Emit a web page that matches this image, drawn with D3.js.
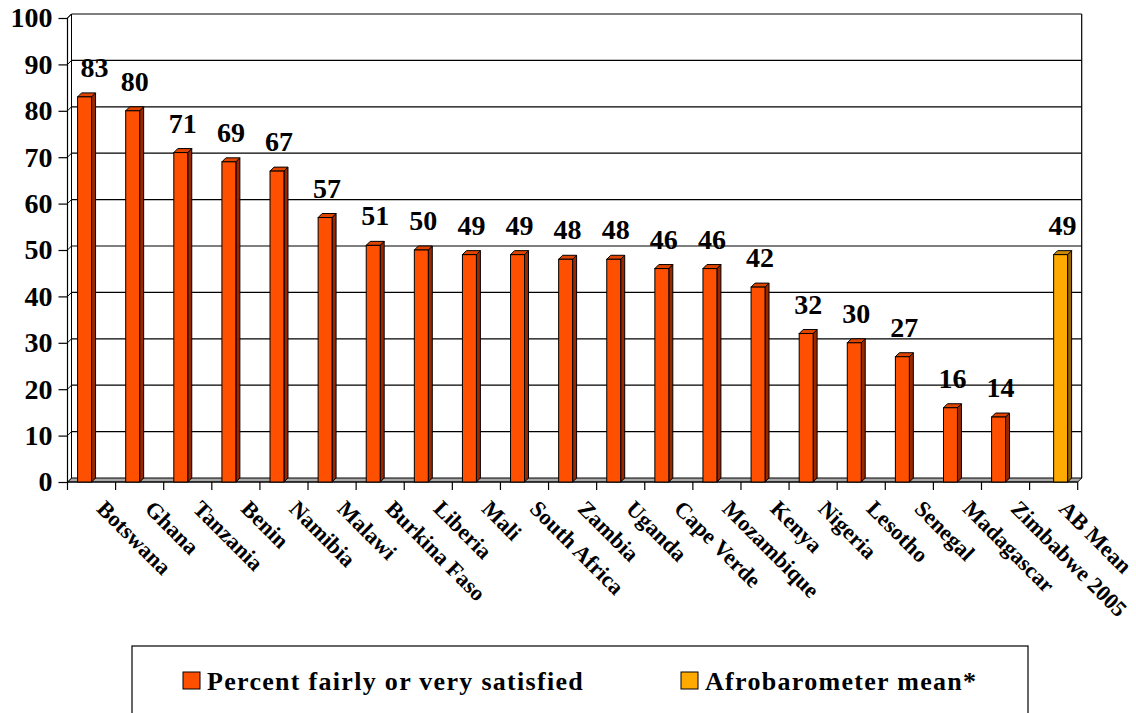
<!DOCTYPE html>
<head>
  <meta charset="utf-8">
  <script src="https://cdn.jsdelivr.net/npm/d3@7"></script>
</head>
<body style="margin:0">
  <svg width="1136" height="713"></svg>
  <script>

  // chart data
  var countries = ["Botswana", "Ghana", "Tanzania", "Benin", "Namibia", "Malawi",
    "Burkina Faso", "Liberia", "Mali", "South Africa", "Zambia", "Uganda",
    "Cape Verde", "Mozambique", "Kenya", "Nigeria", "Lesotho", "Senegal",
    "Madagascar", "Zimbabwe 2005", "AB Mean"];
  var satisfied = [83, 80, 71, 69, 67, 57, 51, 50, 49, 49, 48, 48, 46, 46, 42,
    32, 30, 27, 16, 14, null];
  var abMean = [null, null, null, null, null, null, null, null, null, null, null,
    null, null, null, null, null, null, null, null, null, 49];
  var seriesNames = ["Percent fairly or very satisfied", "Afrobarometer mean*"];
  var yTicks = [0, 10, 20, 30, 40, 50, 60, 70, 80, 90, 100];

  var FONT = "Liberation Serif";

  var svg = d3.select("svg");

  var colors = {
    front: ["#ff4f00", "#ffaa00"],
    top:   ["#e04500", "#cc8800"],
    side:  ["#992800", "#996600"]
  };

  var depth = 4;

  var x0 = d3.scaleBand()
      .domain(countries)
      .range([67.5, 1077.7]);

  var gap = x0.bandwidth() * 0.21;
  var x1 = d3.scaleBand()
      .domain([0, 1])
      .range([gap, x0.bandwidth() - gap]);

  var y = d3.scaleLinear()
      .domain([0, 100])
      .range([482, 18]);

  var left = x0.range()[0], right = x0.range()[1];
  var base = y(0), topY = y(100);

  // floor
  svg.append("polygon")
      .attr("points", [[left, base], [right, base], [right + depth, base - depth], [left + depth, base - depth]].join(" "))
      .attr("fill", "#a8a8a8")
      .attr("stroke", "#000")
      .attr("stroke-width", 1);

  // left wall
  svg.append("polygon")
      .attr("points", [[left, base], [left, topY], [left + depth, topY - depth], [left + depth, base - depth]].join(" "))
      .attr("fill", "#fff")
      .attr("stroke", "#000")
      .attr("stroke-width", 1);

  // gridlines on back wall + diagonals on side wall
  var grid = svg.append("g").attr("class", "grid");
  grid.selectAll("line.back")
    .data(yTicks.slice(1))
    .enter().append("line")
      .attr("class", "back")
      .attr("x1", left + depth)
      .attr("x2", right + depth)
      .attr("y1", function(d) { return y(d) - depth; })
      .attr("y2", function(d) { return y(d) - depth; })
      .attr("stroke", "#000")
      .attr("stroke-width", 1.2);

  grid.selectAll("line.diag")
    .data(yTicks.slice(1))
    .enter().append("line")
      .attr("class", "diag")
      .attr("x1", left)
      .attr("x2", left + depth)
      .attr("y1", function(d) { return y(d); })
      .attr("y2", function(d) { return y(d) - depth; })
      .attr("stroke", "#000")
      .attr("stroke-width", 1);

  // right edge of back wall
  svg.append("line")
      .attr("x1", right + depth).attr("x2", right + depth)
      .attr("y1", topY - depth).attr("y2", base - depth)
      .attr("stroke", "#000").attr("stroke-width", 1.2);

  // y axis
  var yAxis = svg.append("g")
      .attr("transform", "translate(" + left + ",0)")
      .call(d3.axisLeft(y).tickValues(yTicks).tickSize(9).tickPadding(6));
  yAxis.attr("font-family", FONT)
      .attr("font-size", 28)
      .attr("font-weight", "bold");
  yAxis.selectAll("text").attr("fill", "#000");
  yAxis.selectAll("line, path").attr("stroke", "#000").attr("stroke-width", 1.2);
  yAxis.select(".domain").attr("d", "M0," + base + "V" + topY);

  // x axis line + ticks at band boundaries
  var xg = svg.append("g");
  xg.append("line")
      .attr("x1", left).attr("x2", right)
      .attr("y1", base).attr("y2", base)
      .attr("stroke", "#000").attr("stroke-width", 1.2);
  xg.selectAll("line.tick")
    .data(countries.map(function(c) { return x0(c); }).concat([right]))
    .enter().append("line")
      .attr("class", "tick")
      .attr("x1", function(d) { return d; })
      .attr("x2", function(d) { return d; })
      .attr("y1", base)
      .attr("y2", base + 8)
      .attr("stroke", "#000").attr("stroke-width", 1.2);

  xg.selectAll("text")
    .data(countries)
    .enter().append("text")
      .attr("transform", function(d) {
        return "translate(" + (x0(d) + x0.bandwidth() / 2 + 4) + "," + (base + 28) + ") rotate(45)";
      })
      .attr("font-family", FONT)
      .attr("font-weight", "bold")
      .attr("font-size", 22.5)
      .text(function(d) { return d; });

  // bars
  var rows = [];
  countries.forEach(function(c, i) {
    [satisfied[i], abMean[i]].forEach(function(v, s) {
      if (v != null) rows.push({country: c, series: s, value: v});
    });
  });

  var bw = x1.bandwidth();
  var bars = svg.append("g").selectAll("g")
    .data(rows)
    .enter().append("g");

  function fx(d) { return x0(d.country) + x1(d.series); }

  bars.append("polygon")
      .attr("points", function(d) {
        var a = fx(d) + bw, t = y(d.value);
        return [[a, t], [a + depth, t - depth], [a + depth, base - depth], [a, base]].join(" ");
      })
      .attr("fill", function(d) { return colors.side[d.series]; })
      .attr("stroke", "#000").attr("stroke-width", 1);

  bars.append("polygon")
      .attr("points", function(d) {
        var a = fx(d), t = y(d.value);
        return [[a, t], [a + depth, t - depth], [a + bw + depth, t - depth], [a + bw, t]].join(" ");
      })
      .attr("fill", function(d) { return colors.top[d.series]; })
      .attr("stroke", "#000").attr("stroke-width", 1);

  bars.append("rect")
      .attr("x", fx)
      .attr("y", function(d) { return y(d.value); })
      .attr("width", bw)
      .attr("height", function(d) { return base - y(d.value); })
      .attr("fill", function(d) { return colors.front[d.series]; })
      .attr("stroke", "#000").attr("stroke-width", 1);

  bars.append("text")
      .attr("x", function(d, i) { return fx(d) + bw / 2 + depth / 2 + (i === 0 ? 8 : 0); })
      .attr("y", function(d) { return y(d.value) - 20; })
      .attr("text-anchor", "middle")
      .attr("font-family", FONT)
      .attr("font-weight", "bold")
      .attr("font-size", 28)
      .text(function(d) { return d.value; });

  // legend
  var legend = svg.append("g");
  legend.append("rect")
      .attr("x", 132).attr("y", 646)
      .attr("width", 896).attr("height", 90)
      .attr("fill", "#fff")
      .attr("stroke", "#000").attr("stroke-width", 1.2);

  var items = legend.selectAll("g.item")
    .data(seriesNames)
    .enter().append("g")
      .attr("class", "item")
      .attr("transform", function(d, i) { return "translate(" + (i ? 681 : 183) + ",672)"; });
  items.append("rect")
      .attr("width", 17).attr("height", 17)
      .attr("fill", function(d, i) { return colors.front[i]; })
      .attr("stroke", "#000").attr("stroke-width", 1);
  items.append("text")
      .attr("x", 24).attr("y", 18)
      .attr("font-family", FONT)
      .attr("font-weight", "bold")
      .attr("font-size", 26)
      .attr("letter-spacing", 1.3)
      .text(function(d) { return d; });

  </script>
</body>
